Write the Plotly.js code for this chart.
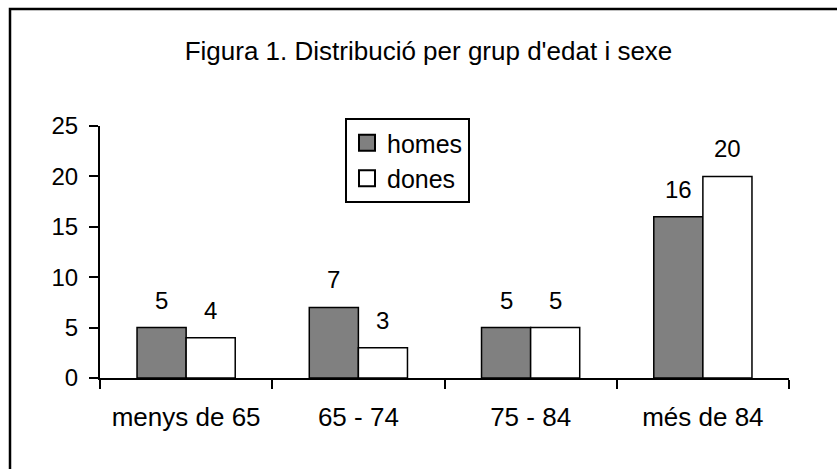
<!DOCTYPE html>
<html>
<head>
<meta charset="utf-8">
<script src="https://cdn.plot.ly/plotly-3.0.1.min.js"></script>
<style>html,body{margin:0;padding:0;background:#fff;}#chart{width:837px;height:469px;}</style>
</head>
<body>
<div id="chart"></div>
<script>
const categories = ["menys de 65", "65 - 74", "75 - 84", "més de 84"];
const homes = [5, 7, 5, 16];
const dones = [4, 3, 5, 20];
const seriesNames = ["homes", "dones"];
const seriesColors = ["#808080", "#ffffff"];
const yTicks = [0, 5, 10, 15, 20, 25];

const FONT = "Liberation Sans, Arial, sans-serif";

const traces = [homes, dones].map((vals, s) => ({
  type: "bar", name: seriesNames[s], x: categories, y: vals,
  marker: {color: seriesColors[s], line: {color: "#000", width: 1.5}},
  showlegend: false, hoverinfo: "none"
}));
// legend entries (square swatches)
seriesNames.forEach((nm, s) => {
  traces.push({
    type: "scatter", mode: "markers", name: nm, x: [null], y: [null],
    marker: {symbol: "square", size: 16, color: seriesColors[s], line: {color: "#000", width: 2}},
    legendgroup: "g" + s, showlegend: true, hoverinfo: "none"
  });
});

const annotations = [];
[homes, dones].forEach((vals, s) => {
  vals.forEach((v, i) => {
    annotations.push({
      x: categories[i], y: v, xref: "x", yref: "y",
      text: String(v), showarrow: false, yanchor: "bottom",
      xshift: s === 0 ? -24.5 : 24.5, yshift: 12,
      font: {family: FONT, size: 24, color: "#000"}
    });
  });
});

const layout = {
  width: 837, height: 469,
  margin: {l: 100, r: 48, t: 126, b: 91, pad: 0},
  paper_bgcolor: "#fff", plot_bgcolor: "#fff",
  font: {family: FONT, size: 24, color: "#000"},
  title: {
    text: "Figura 1. Distribució per grup d'edat i sexe",
    x: 428.5 / 837, xref: "container", xanchor: "center",
    y: 1 - 51 / 469, yref: "container", yanchor: "middle",
    font: {family: FONT, size: 26, color: "#000"}
  },
  barmode: "group", bargap: 0.43, bargroupgap: 0,
  xaxis: {
    type: "category", tickson: "boundaries",
    showline: true, linecolor: "#000", linewidth: 2,
    ticks: "outside", ticklen: 9, tickwidth: 2, tickcolor: "#000",
    ticklabelstandoff: 15,
    showgrid: false, zeroline: false, fixedrange: true,
    tickfont: {family: FONT, size: 26, color: "#000"}
  },
  yaxis: {
    range: [0, 25], tickvals: yTicks,
    showline: true, linecolor: "#000", linewidth: 2,
    ticks: "outside", ticklen: 9, tickwidth: 2, tickcolor: "#000",
    ticklabelstandoff: 6,
    showgrid: false, zeroline: false, fixedrange: true,
    tickfont: {family: FONT, size: 24, color: "#000"}
  },
  showlegend: true,
  legend: {
    x: (345 - 100) / 689, y: 1 + 8 / 252, xanchor: "left", yanchor: "top",
    bordercolor: "#000", borderwidth: 2, bgcolor: "#fff",
    traceorder: "grouped", tracegroupgap: 0,
    font: {family: FONT, size: 25, color: "#000"},
    itemwidth: 30
  },
  annotations: annotations,
  shapes: [{
    type: "rect", xref: "paper", yref: "paper",
    x0: (10 - 100) / 689, x1: (900 - 100) / 689,
    y0: (378 - 520) / 252, y1: (378 - 9) / 252,
    line: {color: "#000", width: 2.5}, fillcolor: "rgba(0,0,0,0)", layer: "below"
  }]
};

Plotly.newPlot("chart", traces, layout, {displayModeBar: false, staticPlot: true});
</script>
</body>
</html>
